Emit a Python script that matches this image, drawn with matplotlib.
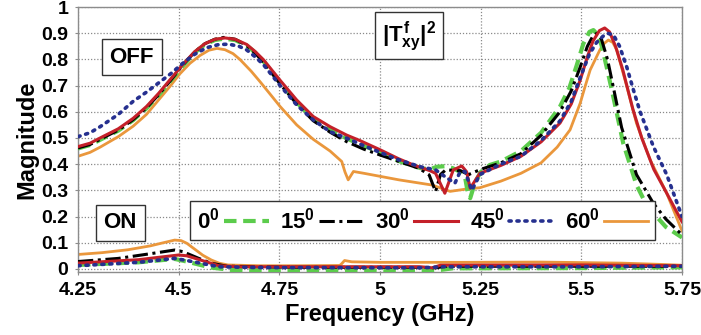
import matplotlib
matplotlib.use('Agg')
import matplotlib.pyplot as plt

# ---------- plot settings ---------- #
matplotlib.rc('font', family='Liberation Sans', weight='bold')
matplotlib.rc('mathtext', fontset='custom', rm='Liberation Sans:bold',
              it='Liberation Sans:bold', bf='Liberation Sans:bold')
matplotlib.rc('axes', edgecolor='#8c8c8c', linewidth=1.0)

# ---------- data ---------- #
angles = ['0', '15', '30', '45', '60']

# OFF state
f_off_0 = [4.25, 4.28, 4.305, 4.35, 4.387, 4.42, 4.45, 4.48, 4.51, 4.54, 4.565, 4.59, 4.612,
           4.64, 4.669, 4.69, 4.711, 4.752, 4.793, 4.834, 4.876, 4.917, 4.96, 5.0, 5.05, 5.1,
           5.124, 5.141, 5.16, 5.18, 5.20, 5.211, 5.219, 5.224, 5.236, 5.25, 5.273, 5.30, 5.35,
           5.40, 5.447, 5.47, 5.488, 5.505, 5.52, 5.53, 5.54, 5.55, 5.563, 5.579, 5.604, 5.637,
           5.66, 5.679, 5.71, 5.75]
m_off_0 = [0.46, 0.473, 0.493, 0.528, 0.568, 0.613, 0.663, 0.718, 0.775, 0.826, 0.857, 0.874,
           0.879, 0.874, 0.853, 0.826, 0.792, 0.712, 0.636, 0.572, 0.532, 0.498, 0.47, 0.445,
           0.41, 0.385, 0.38, 0.39, 0.392, 0.385, 0.37, 0.352, 0.282, 0.27, 0.33, 0.37, 0.397,
           0.41, 0.45, 0.52, 0.62, 0.69, 0.775, 0.86, 0.905, 0.912, 0.895, 0.855, 0.77, 0.66,
           0.48, 0.32, 0.25, 0.213, 0.16, 0.12]

f_off_15 = [4.25, 4.28, 4.305, 4.35, 4.387, 4.42, 4.45, 4.48, 4.51, 4.54, 4.565, 4.59, 4.612,
            4.64, 4.669, 4.69, 4.711, 4.752, 4.793, 4.834, 4.876, 4.917, 4.96, 5.0, 5.047,
            5.097, 5.122, 5.138, 5.15, 5.163, 5.2, 5.22, 5.25, 5.30, 5.35, 5.40, 5.447, 5.475,
            5.497, 5.515, 5.53, 5.54, 5.55, 5.565, 5.58, 5.60, 5.637, 5.679, 5.71, 5.75]
m_off_15 = [0.462, 0.475, 0.495, 0.53, 0.57, 0.615, 0.665, 0.72, 0.778, 0.829, 0.86, 0.877,
            0.884, 0.877, 0.853, 0.824, 0.788, 0.706, 0.63, 0.566, 0.522, 0.486, 0.457, 0.435,
            0.41, 0.384, 0.359, 0.295, 0.36, 0.378, 0.375, 0.36, 0.38, 0.405, 0.44, 0.51,
            0.60, 0.68, 0.77, 0.85, 0.893, 0.90, 0.877, 0.80, 0.69, 0.54, 0.36, 0.25, 0.19,
            0.13]

f_off_30 = [4.25, 4.28, 4.305, 4.35, 4.387, 4.42, 4.45, 4.48, 4.51, 4.54, 4.565, 4.59, 4.615,
            4.64, 4.669, 4.69, 4.711, 4.752, 4.793, 4.834, 4.876, 4.917, 4.95, 5.0, 5.047,
            5.083, 5.124, 5.138, 5.161, 5.182, 5.203, 5.215, 5.224, 5.248, 5.30, 5.35, 5.40,
            5.447, 5.475, 5.497, 5.515, 5.529, 5.545, 5.558, 5.57, 5.585, 5.603, 5.628, 5.65,
            5.68, 5.71, 5.75]
m_off_30 = [0.467, 0.48, 0.50, 0.535, 0.575, 0.62, 0.67, 0.725, 0.78, 0.83, 0.86, 0.877,
            0.882, 0.877, 0.857, 0.83, 0.798, 0.72, 0.645, 0.582, 0.543, 0.511, 0.49, 0.455,
            0.42, 0.397, 0.375, 0.365, 0.289, 0.378, 0.393, 0.371, 0.308, 0.365, 0.395, 0.43,
            0.485, 0.557, 0.63, 0.72, 0.81, 0.87, 0.91, 0.92, 0.905, 0.85, 0.76, 0.61, 0.50,
            0.38, 0.295, 0.18]

f_off_45 = [4.25, 4.28, 4.305, 4.35, 4.387, 4.42, 4.45, 4.48, 4.51, 4.54, 4.57, 4.60, 4.625,
            4.65, 4.669, 4.69, 4.711, 4.752, 4.793, 4.834, 4.876, 4.917, 4.96, 5.0, 5.047,
            5.1, 5.138, 5.155, 5.186, 5.199, 5.211, 5.228, 5.248, 5.30, 5.35, 5.40, 5.447,
            5.475, 5.497, 5.52, 5.538, 5.555, 5.567, 5.58, 5.595, 5.613, 5.63, 5.646, 5.679,
            5.712, 5.75]
m_off_45 = [0.505, 0.52, 0.543, 0.59, 0.64, 0.675, 0.71, 0.745, 0.785, 0.82, 0.845, 0.857,
            0.858, 0.85, 0.836, 0.81, 0.779, 0.70, 0.626, 0.569, 0.524, 0.499, 0.47, 0.445,
            0.416, 0.39, 0.378, 0.359, 0.327, 0.371, 0.372, 0.30, 0.36, 0.40, 0.43, 0.49,
            0.565, 0.64, 0.73, 0.82, 0.865, 0.89, 0.899, 0.893, 0.85, 0.77, 0.68, 0.60, 0.467,
            0.36, 0.20]

f_off_60 = [4.25, 4.28, 4.305, 4.35, 4.387, 4.42, 4.45, 4.48, 4.503, 4.528, 4.553, 4.575,
            4.595, 4.615, 4.635, 4.652, 4.68, 4.702, 4.752, 4.793, 4.834, 4.876, 4.905, 4.913,
            4.921, 4.934, 4.96, 5.047, 5.13, 5.174, 5.215, 5.248, 5.30, 5.35, 5.40, 5.44,
            5.472, 5.497, 5.51, 5.522, 5.546, 5.556, 5.567, 5.578, 5.588, 5.613, 5.637, 5.671,
            5.712, 5.75]
m_off_60 = [0.43, 0.445, 0.465, 0.505, 0.545, 0.59, 0.645, 0.70, 0.745, 0.785, 0.815, 0.835,
            0.842, 0.837, 0.822, 0.80, 0.755, 0.715, 0.62, 0.55, 0.495, 0.45, 0.41, 0.37,
            0.34, 0.372, 0.365, 0.34, 0.32, 0.296, 0.305, 0.31, 0.335, 0.365, 0.405, 0.465,
            0.531, 0.632, 0.70, 0.76, 0.836, 0.86, 0.874, 0.865, 0.836, 0.696, 0.556, 0.416,
            0.289, 0.145]

# ON state
f_on_0 = [4.25, 4.4, 4.49, 4.52, 4.58, 4.63, 4.8, 5.1, 5.15, 5.18, 5.5, 5.75]
m_on_0 = [0.015, 0.025, 0.038, 0.028, 0.005, -0.004, -0.006, -0.006, -0.004, 0.002, 0.003, 0.006]

f_on_15 = [4.25, 4.35, 4.43, 4.49, 4.51, 4.55, 4.58, 4.62, 4.8, 5.1, 5.14, 5.16, 5.4, 5.75]
m_on_15 = [0.028, 0.04, 0.058, 0.072, 0.066, 0.04, 0.022, 0.01, 0.006, 0.006, 0.004, 0.01, 0.01, 0.01]

f_on_30 = [4.25, 4.4, 4.5, 4.52, 4.6, 4.65, 5.1, 5.13, 5.15, 5.5, 5.75]
m_on_30 = [0.022, 0.035, 0.053, 0.05, 0.012, 0.008, 0.008, 0.004, 0.014, 0.015, 0.012]

f_on_45 = [4.25, 4.4, 4.49, 4.52, 4.6, 4.7, 5.1, 5.16, 5.5, 5.75]
m_on_45 = [0.012, 0.025, 0.04, 0.032, 0.008, 0.005, 0.004, 0.008, 0.008, 0.01]

f_on_60 = [4.25, 4.31, 4.374, 4.43, 4.457, 4.49, 4.506, 4.52, 4.54, 4.56, 4.581, 4.60, 4.622,
           4.7, 4.8, 4.9, 4.905, 4.912, 4.93, 5.0, 5.2, 5.4, 5.6, 5.7, 5.75]
m_on_60 = [0.055, 0.062, 0.073, 0.088, 0.098, 0.11, 0.108, 0.098, 0.075, 0.052, 0.034, 0.022,
           0.015, 0.012, 0.012, 0.013, 0.02, 0.032, 0.027, 0.025, 0.025, 0.026, 0.022, 0.017,
           0.014]

xticks = [4.25, 4.5, 4.75, 5, 5.25, 5.5, 5.75]
xtick_labels = ['4.25', '4.5', '4.75', '5', '5.25', '5.5', '5.75']
yticks = [0, 0.1, 0.2, 0.3, 0.4, 0.5, 0.6, 0.7, 0.8, 0.9, 1]
ytick_labels = ['0', '0.1', '0.2', '0.3', '0.4', '0.5', '0.6', '0.7', '0.8', '0.9', '1']

# ---------- styles ---------- #
styles = {
    '0': dict(color='#5ccc4c', lw=3.0, ls=(0, (3.0, 1.6)), zorder=3),
    '15': dict(color='black', lw=2.2, ls=(0, (5, 1.5, 1, 1.5)), zorder=4),
    '30': dict(color='#c42029', lw=2.2, ls='-', zorder=5),
    '45': dict(color='#26308f', lw=2.6, ls=(0, (0.6, 1.6)), dash_capstyle='round', zorder=6),
    '60': dict(color='#ea973c', lw=2.0, ls='-', zorder=2),
}

off = {'0': (f_off_0, m_off_0), '15': (f_off_15, m_off_15), '30': (f_off_30, m_off_30),
       '45': (f_off_45, m_off_45), '60': (f_off_60, m_off_60)}
on = {'0': (f_on_0, m_on_0), '15': (f_on_15, m_on_15), '30': (f_on_30, m_on_30),
      '45': (f_on_45, m_on_45), '60': (f_on_60, m_on_60)}

fig = plt.figure(figsize=(7.01, 3.35), dpi=100)
ax = fig.add_axes([0.1113, 0.188, 0.8616, 0.791])

for a in angles:
    x, y = off[a]
    ax.plot(x, y, label=r'%s$^{0}$' % a, **styles[a])
    x, y = on[a]
    ax.plot(x, y, **styles[a])

ax.set_xlim(4.25, 5.75)
ax.set_ylim(-0.012, 1.0)
ax.set_xticks(xticks)
ax.set_xticklabels(xtick_labels)
ax.set_yticks(yticks)
ax.set_yticklabels(ytick_labels)
ax.tick_params(labelsize=14, length=2, color='#8c8c8c', pad=5)
ax.grid(True, color='#8a8a8a', lw=0.9, ls=(0, (1, 1.5)))
ax.set_axisbelow(True)

ax.set_xlabel('Frequency (GHz)', fontsize=17, fontweight='bold', labelpad=3)
ax.set_ylabel('Magnitude', fontsize=17, fontweight='bold', labelpad=2)

box = dict(boxstyle='square,pad=0.35', fc='white', ec='#333333', lw=1.0)
ax.text(0.089, 0.811, 'OFF', transform=ax.transAxes, fontsize=16, ha='center', va='center',
        bbox=box, zorder=10)
ax.text(0.07, 0.185, 'ON', transform=ax.transAxes, fontsize=16, ha='center', va='center',
        bbox=box, zorder=10)
ax.text(0.548, 0.891, r'$|T^{f}_{xy}|^{2}$', transform=ax.transAxes, fontsize=16,
        ha='center', va='center', bbox=dict(boxstyle='square,pad=0.3', fc='white',
                                             ec='#333333', lw=1.0), zorder=10)

leg = ax.legend(loc='center', bbox_to_anchor=(0.603, 0.342), bbox_transform=fig.transFigure,
                ncol=5, markerfirst=False, fontsize=16, frameon=True, fancybox=False,
                framealpha=1, edgecolor='#333333', handlelength=2.0, handletextpad=0.2,
                columnspacing=0.5, borderpad=0.3)
leg.get_frame().set_linewidth(1.0)
leg.set_zorder(10)

fig.savefig('out.png', dpi=100)
